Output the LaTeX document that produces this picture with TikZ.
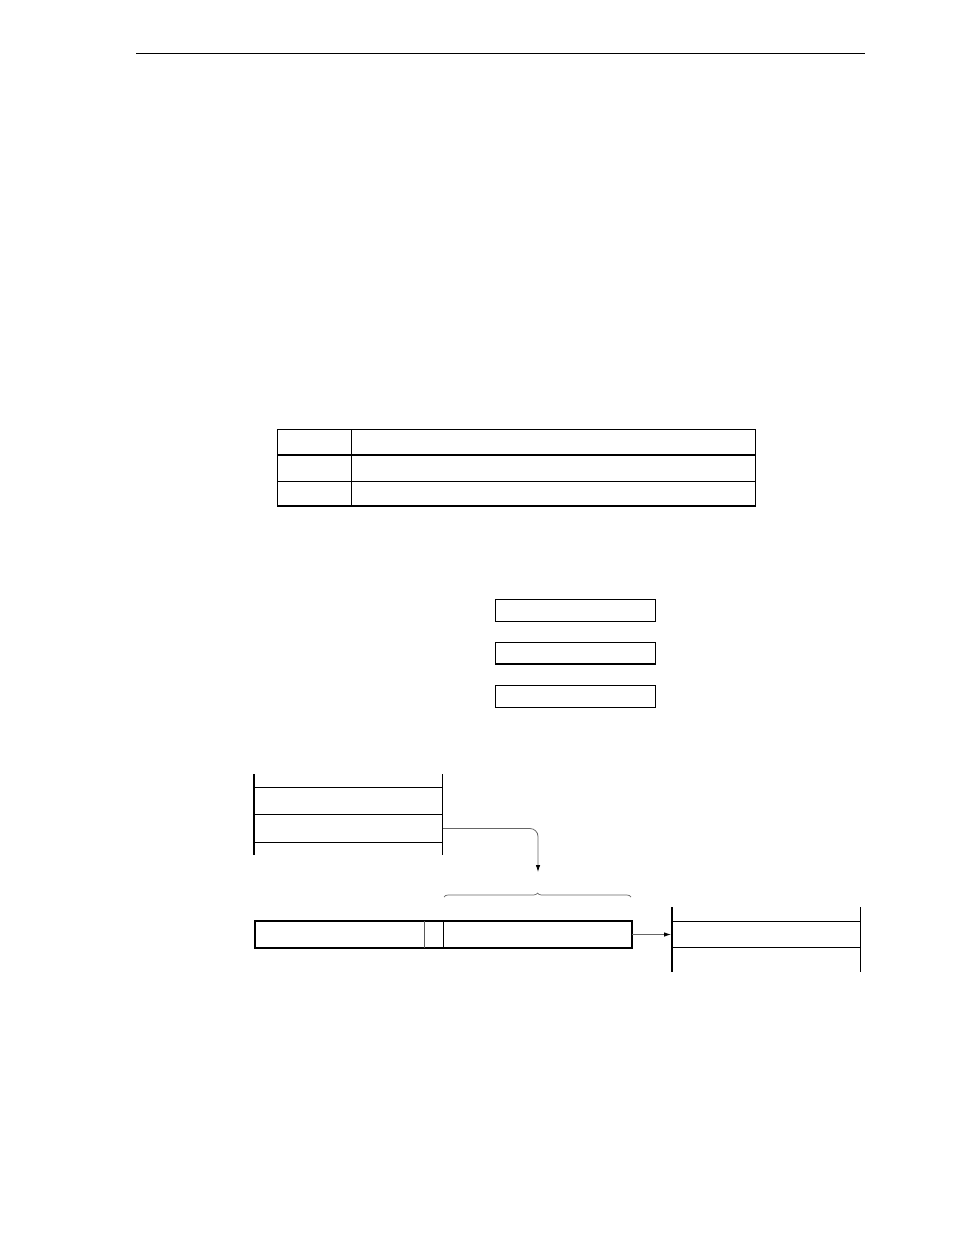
\documentclass[tikz,border=0pt]{standalone}
\usetikzlibrary{arrows.meta,decorations.pathreplacing}
\begin{document}
\begin{tikzpicture}[x=1pt,y=-1pt,
  thinln/.style={line width=0.9pt,black},
  thickln/.style={line width=1.8pt,black},
  box/.style={draw,line width=0.9pt,rectangle,inner sep=0pt,outer sep=0pt},
  grayln/.style={line width=0.8pt,gray!80!black}]
\useasboundingbox (0,0) rectangle (954,1235);
% header rule
\draw[line width=0.8pt] (136,53) -- (865,53);

% table
\node[box,minimum width=478pt,minimum height=77pt] (tbl) at (516,467.5) {};
\draw[thickln] (tbl.south west) -- (tbl.south east);
\draw[thickln] (277,455) -- (755,455);
\draw[thinln] (277,481) -- (755,481);
\draw[thinln] (351,429) -- (351,506);

% three boxes
\node[box,minimum width=160pt,minimum height=22pt] (b1) at (575,610) {};
\node[box,minimum width=160pt,minimum height=22pt] (b2) at (575,653) {};
\draw[thickln] (b2.south west) -- (b2.south east);
\node[box,minimum width=160pt,minimum height=22pt] (b3) at (575,696.5) {};
\draw[thickln] (b3.south west) -- (b3.south east);
\draw[thickln] (b3.north west) -- (b3.north east);

% left memory map
\draw[thickln] (254,774) coordinate (m1tl) -- (254,855);
\draw[thinln] (442,774) coordinate (m1tr) -- (442,855);
\draw[thinln] (254,787) -- (442,787);
\draw[thinln] (254,814.5) -- (442,814.5);
\draw[thinln] (254,842) -- (442,842);
\coordinate (a1) at (443,828.5);
\coordinate (a2) at (538,872);
\draw[grayln,rounded corners=8pt,-{Latex[length=7pt,width=4.5pt,black]}] (a1) -- (a2 |- a1) -- (a2);

% brace
\coordinate (br1) at (444,897);
\coordinate (br2) at (631,897);
\draw[grayln,line width=0.7pt,decorate,decoration={brace,amplitude=4pt}] (br1) -- (br2);

% register
\node[box,line width=1.6pt,minimum width=377pt,minimum height=27pt] (reg) at (443.5,934.5) {};
\draw[line width=0.7pt,gray!70!black] (424,921) -- (424,948);
\draw[thinln] (443,921) -- (443,948);

% right memory map
\draw[thickln] (672,907) coordinate (m2tl) -- (672,972);
\draw[thinln] (860,907) -- (860,972);
\draw[thinln] (672,921) -- (860,921);
\draw[thinln] (672,947.5) -- (860,947.5);
\coordinate (m2in) at (671,934.5);
\draw[grayln,-{Latex[length=7pt,width=4.5pt,black]}] (reg.east) -- (m2in);
\end{tikzpicture}
\end{document}
